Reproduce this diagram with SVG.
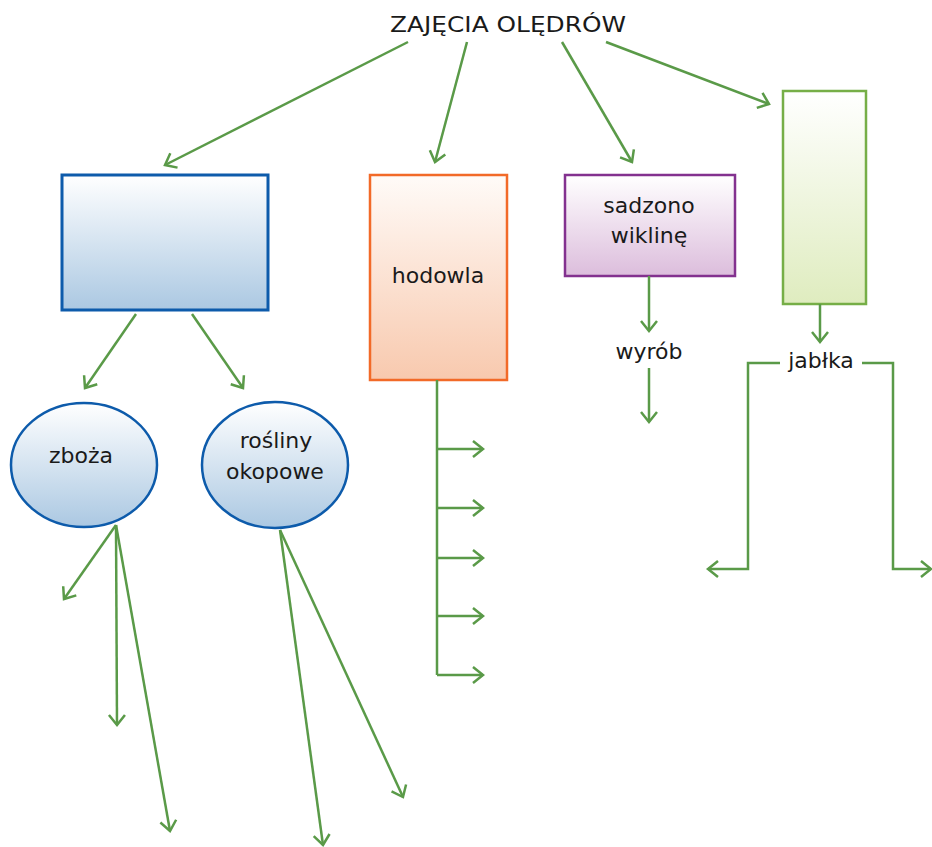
<svg xmlns="http://www.w3.org/2000/svg" width="932" height="847" viewBox="0 0 932 847">
<style>
text{font-family:"DejaVu Sans","Liberation Sans",sans-serif;fill:#1a1a1a;font-size:22px;text-anchor:middle}
.c{fill:none;stroke:#5a9a48;stroke-width:2.5;marker-end:url(#ah)}
.l{fill:none;stroke:#5a9a48;stroke-width:2.5}
</style>
<defs>
<marker id="ah" markerUnits="userSpaceOnUse" markerWidth="20" markerHeight="20" viewBox="-12 -10 14 20" refX="0" refY="0" orient="auto" overflow="visible">
<path d="M-10,-8 L0,0 L-10,8" fill="none" stroke="#5a9a48" stroke-width="2.5"/>
</marker>
<linearGradient id="gb" x1="0" y1="0" x2="0" y2="1"><stop offset="0" stop-color="#ffffff"/><stop offset="1" stop-color="#abc8e2"/></linearGradient>
<linearGradient id="go" x1="0" y1="0" x2="0" y2="1"><stop offset="0" stop-color="#fffbf8"/><stop offset="1" stop-color="#f8c9ae"/></linearGradient>
<linearGradient id="gp" x1="0" y1="0" x2="0" y2="1"><stop offset="0" stop-color="#ffffff"/><stop offset="1" stop-color="#dcbddc"/></linearGradient>
<linearGradient id="gg" x1="0" y1="0" x2="0" y2="1"><stop offset="0" stop-color="#ffffff"/><stop offset="1" stop-color="#dfecbf"/></linearGradient>
</defs>
<g id="title"><text x="508" y="32" font-size="23" textLength="236" lengthAdjust="spacingAndGlyphs">ZAJĘCIA OLĘDRÓW</text></g>
<g id="n-blue"><rect x="62" y="175" width="206" height="135" fill="url(#gb)" stroke="#0d5bab" stroke-width="3"/></g>
<g id="n-hodowla"><rect x="370" y="175" width="137" height="205" fill="url(#go)" stroke="#f26a28" stroke-width="2.5"/><text x="438" y="283">hodowla</text></g>
<g id="n-sadzono"><rect x="565" y="175" width="170" height="101" fill="url(#gp)" stroke="#83318f" stroke-width="2.5"/><text x="649" y="213">sadzono</text><text x="649" y="243">wiklinę</text></g>
<g id="n-green"><rect x="783" y="91" width="83" height="213" fill="url(#gg)" stroke="#76ae47" stroke-width="2.5"/></g>
<g id="n-zboza"><ellipse cx="84" cy="465" rx="73" ry="62" fill="url(#gb)" stroke="#0d5bab" stroke-width="2.5"/><text x="81" y="463">zboża</text></g>
<g id="n-rosliny"><ellipse cx="275" cy="465" rx="73" ry="63" fill="url(#gb)" stroke="#0d5bab" stroke-width="2.5"/><text x="276" y="448">rośliny</text><text x="275" y="479">okopowe</text></g>
<g id="n-wyrob"><text x="649" y="359">wyrób</text></g>
<g id="n-jablka"><text x="821" y="368">jabłka</text></g>
<g id="connectors">
<path class="c" d="M408,42 L165,165"/>
<path class="c" d="M467,42 L435,162"/>
<path class="c" d="M562,42 L632,162"/>
<path class="c" d="M606,42 L769,104"/>
<path class="c" d="M136,314 L85,388"/>
<path class="c" d="M192,314 L243,388"/>
<path class="c" d="M116,525 L64,599"/>
<path class="c" d="M116,525 L117,725"/>
<path class="c" d="M116,525 L170,831"/>
<path class="c" d="M280,530 L323,845"/>
<path class="c" d="M280,530 L403,797"/>
<path class="l" d="M437,380 L437,675"/>
<path class="c" d="M437,449 L483,449"/>
<path class="c" d="M437,508 L483,508"/>
<path class="c" d="M437,558 L483,558"/>
<path class="c" d="M437,616 L483,616"/>
<path class="c" d="M437,675 L483,675"/>
<path class="c" d="M649,276 L649,331"/>
<path class="c" d="M649,368 L649,422"/>
<path class="c" d="M820,304 L820,342"/>
<path class="c" d="M780,363 L748,363 L748,569 L708,569"/>
<path class="c" d="M862,363 L893,363 L893,569 L931,569"/>
</g>
</svg>
